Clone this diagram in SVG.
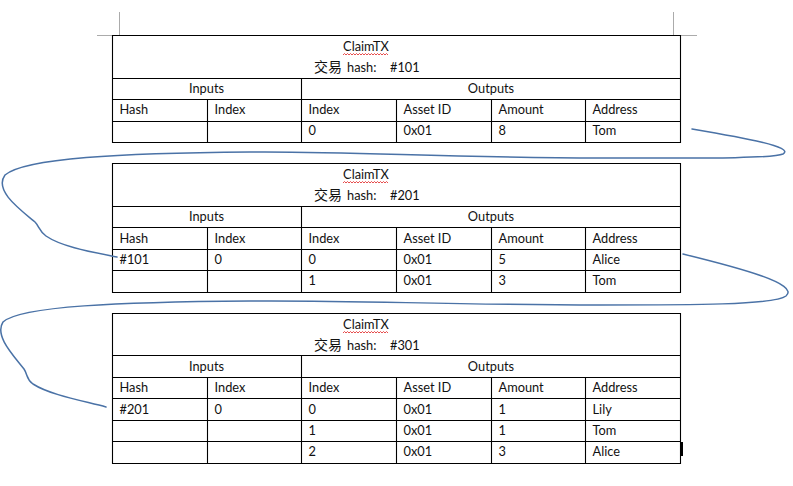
<svg xmlns="http://www.w3.org/2000/svg" width="793" height="486" viewBox="0 0 793 486">
  <style>
    .grid { fill: none; stroke: #000; stroke-width: 1.1; }
    .crop { fill: none; stroke: #ababab; stroke-width: 1; }
    .t { font-family: Lato, "Liberation Sans", sans-serif; font-size: 12.8px; fill: #111; }
    .c { text-anchor: middle; }
    .cjk { font-family: "Noto Sans CJK SC", sans-serif; font-size: 14px; fill: #111; }
    .spell { fill: none; stroke: #e02020; stroke-width: 0.8; }
    .link { fill: none; stroke: #4a72a6; stroke-width: 1.5; stroke-linecap: round; }
  </style>
  <defs>
    <path id="squiggle" class="spell" d="M0,0 l1.5,-1.5 1.5,1.5 1.5,-1.5 1.5,1.5 1.5,-1.5 1.5,1.5 1.5,-1.5 1.5,1.5 1.5,-1.5 1.5,1.5 1.5,-1.5 1.5,1.5 1.5,-1.5 1.5,1.5 1.5,-1.5 1.5,1.5 1.5,-1.5 1.5,1.5 1.5,-1.5 1.5,1.5 1.5,-1.5 1.5,1.5 1.5,-1.5 1.5,1.5 1.5,-1.5 1.5,1.5 1.5,-1.5 1.5,1.5 1.5,-1.5 1.5,1.5"/>
  </defs>
  <rect width="793" height="486" fill="#fff"/>

  <!-- page corner marks -->
  <g id="page-marks">
    <path class="crop" d="M119.5,12 V35.5 H97"/>
    <path class="crop" d="M673.5,12 V35.5 H697"/>
  </g>

  <!-- transaction #101 -->
  <g id="tx101">
    <path class="grid" d="M112.5,35.5 H680.5 V142.5 H112.5 Z M112.5,78.5 H680.5 M112.5,99.5 H680.5 M112.5,121.5 H680.5
      M301.5,78.5 V142.5 M207.5,99.5 V142.5 M396.5,99.5 V142.5 M491.5,99.5 V142.5 M585.5,99.5 V142.5"/>
    <text class="t c" x="366" y="51">ClaimTX</text>
    <use href="#squiggle" x="343" y="55"/>
    <text class="cjk" x="314" y="72">交易</text>
    <text class="t" x="347" y="72">hash:</text>
    <text class="t" x="390" y="72">#101</text>
    <text class="t c" x="206.5" y="92.5">Inputs</text>
    <text class="t c" x="491" y="92.5">Outputs</text>
    <text class="t" x="119.5" y="114">Hash</text>
    <text class="t" x="214.5" y="114">Index</text>
    <text class="t" x="308.5" y="114">Index</text>
    <text class="t" x="403.5" y="114">Asset ID</text>
    <text class="t" x="498.5" y="114">Amount</text>
    <text class="t" x="592.5" y="114">Address</text>
    <text class="t" x="308.5" y="135">0</text>
    <text class="t" x="403.5" y="135">0x01</text>
    <text class="t" x="498.5" y="135">8</text>
    <text class="t" x="592.5" y="135">Tom</text>
  </g>

  <!-- transaction #201 -->
  <g id="tx201">
    <path class="grid" d="M112.5,163.5 H680.5 V292.5 H112.5 Z M112.5,206.5 H680.5 M112.5,227.5 H680.5 M112.5,249.5 H680.5 M112.5,270.5 H680.5
      M301.5,206.5 V292.5 M207.5,227.5 V292.5 M396.5,227.5 V292.5 M491.5,227.5 V292.5 M585.5,227.5 V292.5"/>
    <text class="t c" x="366" y="179">ClaimTX</text>
    <use href="#squiggle" x="343" y="183"/>
    <text class="cjk" x="314" y="200">交易</text>
    <text class="t" x="347" y="200">hash:</text>
    <text class="t" x="390" y="200">#201</text>
    <text class="t c" x="206.5" y="220.5">Inputs</text>
    <text class="t c" x="491" y="220.5">Outputs</text>
    <text class="t" x="119.5" y="242.5">Hash</text>
    <text class="t" x="214.5" y="242.5">Index</text>
    <text class="t" x="308.5" y="242.5">Index</text>
    <text class="t" x="403.5" y="242.5">Asset ID</text>
    <text class="t" x="498.5" y="242.5">Amount</text>
    <text class="t" x="592.5" y="242.5">Address</text>
    <text class="t" x="119.5" y="263.5">#101</text>
    <text class="t" x="214.5" y="263.5">0</text>
    <text class="t" x="308.5" y="263.5">0</text>
    <text class="t" x="403.5" y="263.5">0x01</text>
    <text class="t" x="498.5" y="263.5">5</text>
    <text class="t" x="592.5" y="263.5">Alice</text>
    <text class="t" x="308.5" y="285">1</text>
    <text class="t" x="403.5" y="285">0x01</text>
    <text class="t" x="498.5" y="285">3</text>
    <text class="t" x="592.5" y="285">Tom</text>
  </g>

  <!-- transaction #301 -->
  <g id="tx301">
    <path class="grid" d="M112.5,313.5 H680.5 V463.5 H112.5 Z M112.5,355.5 H680.5 M112.5,377.5 H680.5 M112.5,398.5 H680.5 M112.5,420.5 H680.5 M112.5,441.5 H680.5
      M301.5,355.5 V463.5 M207.5,377.5 V463.5 M396.5,377.5 V463.5 M491.5,377.5 V463.5 M585.5,377.5 V463.5"/>
    <rect x="680" y="442" width="3" height="14" fill="#000"/>
    <text class="t c" x="366" y="329">ClaimTX</text>
    <use href="#squiggle" x="343" y="333"/>
    <text class="cjk" x="314" y="350">交易</text>
    <text class="t" x="347" y="350">hash:</text>
    <text class="t" x="390" y="350">#301</text>
    <text class="t c" x="206.5" y="370.5">Inputs</text>
    <text class="t c" x="491" y="370.5">Outputs</text>
    <text class="t" x="119.5" y="392">Hash</text>
    <text class="t" x="214.5" y="392">Index</text>
    <text class="t" x="308.5" y="392">Index</text>
    <text class="t" x="403.5" y="392">Asset ID</text>
    <text class="t" x="498.5" y="392">Amount</text>
    <text class="t" x="592.5" y="392">Address</text>
    <text class="t" x="119.5" y="413.5">#201</text>
    <text class="t" x="214.5" y="413.5">0</text>
    <text class="t" x="308.5" y="413.5">0</text>
    <text class="t" x="403.5" y="413.5">0x01</text>
    <text class="t" x="498.5" y="413.5">1</text>
    <text class="t" x="592.5" y="413.5">Lily</text>
    <text class="t" x="308.5" y="434.5">1</text>
    <text class="t" x="403.5" y="434.5">0x01</text>
    <text class="t" x="498.5" y="434.5">1</text>
    <text class="t" x="592.5" y="434.5">Tom</text>
    <text class="t" x="308.5" y="456">2</text>
    <text class="t" x="403.5" y="456">0x01</text>
    <text class="t" x="498.5" y="456">3</text>
    <text class="t" x="592.5" y="456">Alice</text>
  </g>

  <!-- spend links: output of one transaction to the input of the next -->
  <g id="links">
    <path class="link" d="M692,129 C745,138 795,147 783,154 C772,159 690,158 600,158 C450,158 350,151 250,152 C120,153 25,158 5,175 C-6,190 18,208 35,222 C39,226 39,231 46,236 C62,247 92,252 117,257"/>
    <path class="link" d="M683,254 C740,268 800,284 786,296 C774,305 690,305 600,305 C450,305 350,300 250,301 C120,302 20,306 3,322 C-6,336 14,356 24,369 C28,375 26,379 33,384 C50,395 84,401 106,407"/>
  </g>
</svg>
